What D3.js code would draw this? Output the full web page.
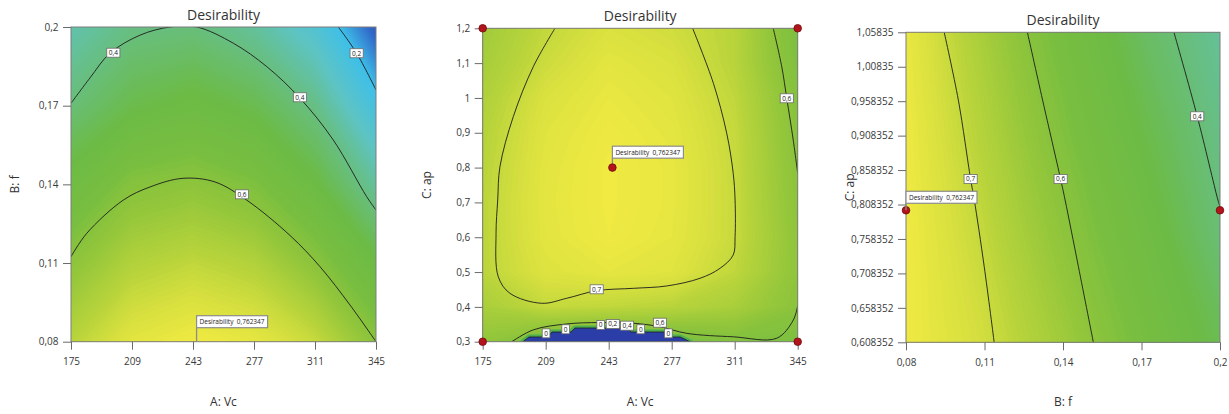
<!DOCTYPE html>
<html lang="en">
<head>
  <meta charset="utf-8"/>
  <title>Desirability contour plots</title>
  <script src="https://cdn.jsdelivr.net/npm/d3@7"></script>
  <style>
    body { margin: 0; background: #fff; }
    svg { display: block; font-family: "Open Sans", "Noto Sans", sans-serif; }
    .axis text { font-family: "Open Sans", "Noto Sans", sans-serif; font-size: 10px; fill: #3a3a3a; }
    .axis line { stroke: #6a6a6a; }
    .axis .domain { display: none; }
    .frame { fill: none; stroke: #7c7c7c; stroke-width: 1; }
    .title { font-size: 14px; fill: #333; text-anchor: middle; }
    .axis-title { font-size: 12px; fill: #333; text-anchor: middle; }
    .cline { fill: none; stroke: #1c1c1c; stroke-width: 0.9; }
    .clabel rect { fill: #fff; stroke: #6c6c6c; stroke-width: 0.8; }
    .clabel text { font-size: 6.5px; fill: #222; text-anchor: middle; }
    .flag rect { fill: #fff; stroke: #8c8c8c; stroke-width: 1.2; }
    .flag line { stroke: #8c8c8c; stroke-width: 1.3; }
    .flag text { font-size: 6.5px; fill: #222; }
    .dpoint { fill: #b3141c; stroke: #6e0a0e; stroke-width: 0.8; }
  </style>
</head>
<body>
<svg id="chart" width="1229" height="414"></svg>
<script>
  // ---------------------------------------------
  // Data
  // ---------------------------------------------
  var vcTicks = [175, 209, 243, 277, 311, 345];
  var vcLabels = ["175", "209", "243", "277", "311", "345"];
  var fTicks = [0.08, 0.11, 0.14, 0.17, 0.2];
  var fLabels = ["0,08", "0,11", "0,14", "0,17", "0,2"];
  var apTicks = [0.3, 0.4, 0.5, 0.6, 0.7, 0.8, 0.9, 1.0, 1.1, 1.2];
  var apLabels = ["0,3", "0,4", "0,5", "0,6", "0,7", "0,8", "0,9", "1", "1,1", "1,2"];
  var ap3Ticks = [0.608352, 0.658352, 0.708352, 0.758352, 0.808352, 0.858352, 0.908352, 0.958352, 1.008352, 1.058352];
  var ap3Labels = ["0,608352", "0,658352", "0,708352", "0,758352", "0,808352", "0,858352", "0,908352", "0,958352", "1,00835", "1,05835"];

  // desirability colour ramp
  var paletteValues = [0, 0.08, 0.12, 0.2, 0.3, 0.4, 0.48, 0.56, 0.62, 0.68, 0.72, 0.762];
  var paletteColors = ["#25339b", "#2b4fb6", "#3168c8", "#3fbfe8", "#5ec4c4", "#68be7a",
                       "#6cbb46", "#78be40", "#94c63b", "#b8d43b", "#d8e03f", "#f0ea42"];

  // panel 1: A: Vc (columns) x B: f (rows, bottom to top)
  var p1Grid = [
    [0.68, 0.74, 0.762, 0.745, 0.70, 0.60],
    [0.605, 0.67, 0.69, 0.67, 0.602, 0.49],
    [0.51, 0.59, 0.607, 0.575, 0.49, 0.355],
    [0.405, 0.47, 0.50, 0.465, 0.385, 0.225],
    [0.33, 0.39, 0.40, 0.355, 0.265, 0.10]
  ];
  var p1Line06 = [[175, 0.1124], [183.75, 0.1213], [204.15, 0.134], [219, 0.139], [237.4, 0.1423], [255.3, 0.1409],
                  [272.9, 0.134], [297.1, 0.1205], [313.8, 0.1086], [330.5, 0.094], [345, 0.08]];
  var p1Line04 = [[175, 0.1709], [185.6, 0.1806], [196.7, 0.19], [213.5, 0.1969], [230.2, 0.2], [245.1, 0.2],
                  [265.5, 0.1938], [284.1, 0.1849], [302.7, 0.1728], [321.2, 0.1569], [339.8, 0.1353], [345, 0.1302]];
  var p1Line02 = [[324, 0.2], [334.2, 0.19], [345, 0.176]];
  var p1Labels = [["0,4", 198.6, 0.1902], ["0,4", 302.6, 0.1732], ["0,2", 334.2, 0.19], ["0,6", 270.3, 0.1362]];

  // panel 2: A: Vc (columns) x C: ap (rows, bottom to top)
  var p2Grid = [
    [0.615, 0.56, 0.55, 0.56, 0.58, 0.57],
    [0.655, 0.695, 0.69, 0.68, 0.655, 0.60],
    [0.685, 0.73, 0.745, 0.735, 0.69, 0.61],
    [0.685, 0.74, 0.76, 0.745, 0.70, 0.61],
    [0.685, 0.742, 0.762, 0.748, 0.70, 0.605],
    [0.68, 0.74, 0.762, 0.748, 0.699, 0.60],
    [0.675, 0.735, 0.758, 0.742, 0.697, 0.595],
    [0.665, 0.725, 0.75, 0.735, 0.69, 0.59],
    [0.65, 0.705, 0.74, 0.725, 0.68, 0.575],
    [0.64, 0.692, 0.725, 0.71, 0.68, 0.565]
  ];
  var p2Line07 = [[214.0, 1.2], [202.3, 1.0897], [191.5, 0.9461], [184.3, 0.8025], [183.1, 0.7069], [182.2, 0.6113],
                  [183.4, 0.4867], [189.7, 0.439], [206.8, 0.4103], [220.3, 0.4246], [236.5, 0.4465], [256.3, 0.4533],
                  [274.3, 0.46], [292.3, 0.4821], [303.1, 0.5108], [310.2, 0.549], [311.2, 0.6015], [311.2, 0.7069],
                  [310.2, 0.7836], [306.7, 0.8985], [299.5, 1.0421], [288.3, 1.2]];
  var p2Line06a = [[331.8, 1.2], [336.4, 1.0897], [339.1, 0.9992], [342.6, 0.8788], [345, 0.7836]];
  var p2Line06b = [[190.7, 0.3], [202.3, 0.334], [220.3, 0.351], [238.3, 0.355], [256.3, 0.353], [270.7, 0.343],
                   [285.1, 0.324], [310.3, 0.314], [333.7, 0.31], [342.6, 0.362], [345, 0.403]];
  var p2Zero = [[196.7, 0.3], [200.0, 0.3135], [210.2, 0.3135], [212.4, 0.3279], [222.7, 0.3279], [224.8, 0.3393],
                [252.9, 0.3393], [255.1, 0.3279], [272.9, 0.3279], [275.0, 0.3135], [281.5, 0.3135], [286.9, 0.3]];
  var p2Labels = [["0,7", 236.5, 0.4505], ["0,6", 339.1, 0.999], ["0", 209.2, 0.324], ["0", 219.8, 0.3356],
                  ["0", 238.7, 0.348], ["0,2", 245.2, 0.3508], ["0,4", 252.9, 0.346], ["0", 260.3, 0.3356],
                  ["0,6", 270.7, 0.3546], ["0", 275.2, 0.324]];
  var p2Design = [[175, 0.3], [175, 1.2], [345, 1.2], [345, 0.3]];

  // panel 3: B: f (columns) x C: ap (rows, bottom to top)
  var p3Rows = [0.608352, 0.758352, 0.908352, 1.058352];
  var p3Grid = [
    [0.76, 0.712, 0.64, 0.555, 0.46],
    [0.762, 0.693, 0.61, 0.52, 0.41],
    [0.758, 0.672, 0.58, 0.48, 0.385],
    [0.75, 0.65, 0.55, 0.44, 0.36]
  ];
  var p3Line07 = [[0.0946, 1.058352], [0.1, 0.96], [0.1047, 0.845], [0.1061, 0.815], [0.1099, 0.718], [0.1137, 0.608352]];
  var p3Line06 = [[0.1264, 1.058352], [0.1322, 0.96], [0.1391, 0.845], [0.1408, 0.815], [0.1459, 0.718], [0.1516, 0.608352]];
  var p3Line04 = [[0.1824, 1.058352], [0.1913, 0.9364], [0.1992, 0.815], [0.2, 0.805]];
  var p3Labels = [["0,7", 0.1047, 0.8454], ["0,6", 0.1391, 0.8454], ["0,4", 0.1913, 0.9364]];
  var p3Design = [[0.08, 0.8], [0.2, 0.8]];

  // optimum
  var optVc = 245, optF = 0.08, optAp = 0.8;
  var optText = "Desirability  0,762347";

  // ---------------------------------------------
  // Layout
  // ---------------------------------------------
  var layout = [
    { x0: 71, x1: 376, y0: 27, y1: 341.7, lift: 14 },
    { x0: 482.7, x1: 797.7, y0: 28.3, y1: 341.7, lift: 9.4 },
    { x0: 906, x1: 1220, y0: 32.3, y1: 342.3, lift: 7 }
  ];

  var panels = [
    { xTicks: vcTicks, xLabels: vcLabels, yTicks: fTicks, yLabels: fLabels, cols: vcTicks, rows: fTicks,
      grid: p1Grid, lines: [p1Line06, p1Line04, p1Line02], labels: p1Labels, design: [],
      opt: [optVc, optF], optDot: false, xTitle: "A: Vc", yTitle: "B: f" },
    { xTicks: vcTicks, xLabels: vcLabels, yTicks: apTicks, yLabels: apLabels, cols: vcTicks, rows: apTicks,
      grid: p2Grid, lines: [p2Line07, p2Line06a, p2Line06b], labels: p2Labels, design: p2Design, zero: p2Zero,
      opt: [optVc, optAp], optDot: true, xTitle: "A: Vc", yTitle: "C: ap" },
    { xTicks: fTicks, xLabels: fLabels, yTicks: ap3Ticks, yLabels: ap3Labels, cols: fTicks, rows: p3Rows,
      grid: p3Grid, lines: [p3Line07, p3Line06, p3Line04], labels: p3Labels, design: p3Design,
      opt: [optF, optAp], optDot: false, xTitle: "B: f", yTitle: "C: ap" }
  ];

  var svg = d3.select("#chart");
  var defs = svg.append("defs");
  var colour = d3.scaleLinear().domain(paletteValues).range(paletteColors).clamp(true);

  panels.forEach(function(p, i) {
    var box = layout[i];
    var x = d3.scaleLinear().domain([p.xTicks[0], p.xTicks[p.xTicks.length - 1]]).range([box.x0, box.x1]);
    var y = d3.scaleLinear().domain([p.yTicks[0], p.yTicks[p.yTicks.length - 1]]).range([box.y1, box.y0]);

    defs.append("clipPath").attr("id", "clip" + i)
      .append("rect")
        .attr("x", box.x0).attr("y", box.y0)
        .attr("width", box.x1 - box.x0).attr("height", box.y1 - box.y0);

    var plot = svg.append("g").attr("clip-path", "url(#clip" + i + ")");

    // filled field from the grid
    var n = p.cols.length, m = p.rows.length;
    var values = [].concat.apply([], p.grid);
    var stepX = (p.cols[n - 1] - p.cols[0]) / (n - 1),
        stepY = (p.rows[m - 1] - p.rows[0]) / (m - 1);
    var path = d3.geoPath(d3.geoTransform({
      point: function(gx, gy) {
        this.stream.point(x(p.cols[0] + (gx - 0.5) * stepX), y(p.rows[0] + (gy - 0.5) * stepY));
      }
    }));
    var bands = d3.contours().size([n, m]).thresholds(d3.range(0.005, 0.77, 0.005))(values);

    plot.append("rect")
      .attr("x", box.x0).attr("y", box.y0)
      .attr("width", box.x1 - box.x0).attr("height", box.y1 - box.y0)
      .attr("fill", colour(d3.min(values)));

    plot.append("g").selectAll("path")
      .data(bands)
      .join("path")
        .attr("d", path)
        .attr("fill", function(d) { return colour(d.value + 0.0025); });

    // zero-desirability zone
    if (p.zero) {
      var zoneLine = d3.line()
        .x(function(d) { return x(d[0]); })
        .y(function(d) { return y(d[1]); });
      plot.append("path")
        .attr("d", zoneLine(p.zero) + "Z")
        .attr("fill", "#4fae50").attr("stroke", "#4fae50")
        .attr("stroke-width", 5).attr("stroke-linejoin", "round");
      plot.append("path")
        .attr("d", zoneLine(p.zero) + "Z")
        .attr("fill", "#2b3ea8").attr("stroke", "#1c1c1c").attr("stroke-width", 0.8);
    }

    // contour lines
    var line = d3.line()
      .x(function(d) { return x(d[0]); })
      .y(function(d) { return y(d[1]); })
      .curve(d3.curveCatmullRom.alpha(0.5));
    plot.selectAll("path.cline")
      .data(p.lines)
      .join("path")
        .attr("class", "cline")
        .attr("d", line);

    // frame
    svg.append("rect")
      .attr("class", "frame")
      .attr("x", box.x0).attr("y", box.y0)
      .attr("width", box.x1 - box.x0).attr("height", box.y1 - box.y0);

    // axes
    svg.append("g")
      .attr("class", "axis")
      .attr("transform", "translate(0," + box.y1 + ")")
      .call(d3.axisBottom(x)
        .tickValues(p.xTicks)
        .tickFormat(function(d, j) { return p.xLabels[j]; })
        .tickSize(8).tickPadding(8.5));

    svg.append("g")
      .attr("class", "axis")
      .attr("transform", "translate(" + box.x0 + ",0)")
      .call(d3.axisLeft(y)
        .tickValues(p.yTicks)
        .tickFormat(function(d, j) { return p.yLabels[j]; })
        .tickSize(8).tickPadding(4.5));

    // titles
    svg.append("text")
      .attr("class", "title")
      .attr("x", (box.x0 + box.x1) / 2)
      .attr("y", box.y0 - 7)
      .text("Desirability");

    svg.append("text")
      .attr("class", "axis-title")
      .attr("x", (box.x0 + box.x1) / 2)
      .attr("y", box.y1 + 64)
      .text(p.xTitle);

    svg.append("text")
      .attr("class", "axis-title")
      .attr("transform", "translate(" + (box.x0 - 52) + "," + ((box.y0 + box.y1) / 2) + ") rotate(-90)")
      .text(p.yTitle);

    // contour labels
    var lab = svg.append("g").selectAll("g")
      .data(p.labels)
      .join("g")
        .attr("class", "clabel")
        .attr("transform", function(d) { return "translate(" + x(d[1]) + "," + y(d[2]) + ")"; });
    lab.append("rect");
    lab.append("text").attr("dy", "0.36em").text(function(d) { return d[0]; });
    lab.each(function() {
      var g = d3.select(this);
      var w = g.select("text").node().getComputedTextLength() + 4;
      g.select("rect").attr("x", -w / 2).attr("y", -4.5).attr("width", w).attr("height", 9);
    });

    // design points
    svg.append("g").selectAll("circle")
      .data(p.design)
      .join("circle")
        .attr("class", "dpoint")
        .attr("cx", function(d) { return x(d[0]); })
        .attr("cy", function(d) { return y(d[1]); })
        .attr("r", 3.8);

    // optimum flag
    var fx = x(p.opt[0]), fy = y(p.opt[1]);
    var flag = svg.append("g").attr("class", "flag");
    flag.append("line")
      .attr("x1", fx).attr("x2", fx)
      .attr("y1", fy).attr("y2", fy - box.lift);
    flag.append("rect")
      .attr("x", fx).attr("y", fy - box.lift - 12)
      .attr("width", 71).attr("height", 12);
    flag.append("text")
      .attr("x", fx + 3).attr("y", fy - box.lift - 6)
      .attr("dy", "0.36em")
      .attr("xml:space", "preserve")
      .text(optText);
    if (p.optDot) {
      svg.append("circle")
        .attr("class", "dpoint")
        .attr("cx", fx).attr("cy", fy).attr("r", 3.8);
    }
  });
</script>
</body>
</html>
